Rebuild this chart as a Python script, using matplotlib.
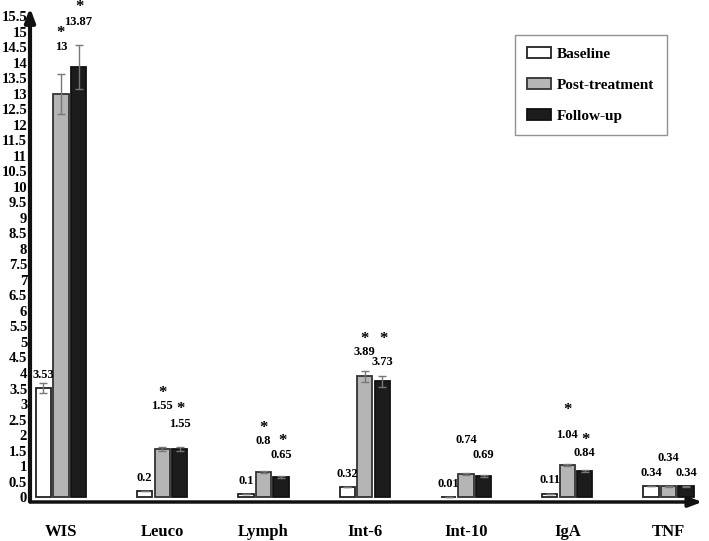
import matplotlib.pyplot as plt
from matplotlib.patches import Patch
import numpy as np

plt.rcParams['font.family'] = ['Liberation Serif', 'DejaVu Serif']
plt.rcParams['font.weight'] = 'bold'

categorias = ['WIS', 'Leuco', 'Lymph', 'Int-6', 'Int-10', 'IgA', 'TNF']
baseline = [3.53, 0.2, 0.1, 0.32, 0.01, 0.11, 0.34]
post = [13, 1.55, 0.8, 3.89, 0.74, 1.04, 0.34]
follow = [13.87, 1.55, 0.65, 3.73, 0.69, 0.84, 0.34]
err_base = [0.16, 0, 0, 0, 0, 0, 0]
err_post = [0.65, 0.07, 0.03, 0.18, 0.03, 0.03, 0.01]
err_follow = [0.7, 0.07, 0.03, 0.17, 0.03, 0.03, 0.01]
# significancia (asterisco) por serie
sig_post = [True, True, True, True, False, True, False]
sig_follow = [True, True, True, True, False, True, False]

# altura de las etiquetas (en unidades del eje)
lab_base = [3.94, 0.61, 0.52, 0.74, 0.42, 0.55, 0.77]
lab_post = [14.5, 2.94, 1.8, 4.68, 1.84, 2.0, 1.26]
lab_follow = [15.33, 2.35, 1.35, 4.35, 1.35, 1.42, 0.77]
star_post = [14.98, 3.36, 2.22, 5.1, 0, 2.8, 0]
star_follow = [15.82, 2.84, 1.82, 5.1, 0, 1.84, 0]

fig = plt.figure(figsize=(7.09, 5.41), dpi=100)
ax = fig.add_axes([30 / 709, 39 / 541, 675 / 709, 497 / 541])

x = np.arange(len(categorias))
w = 0.15
d = 0.173
ek = dict(ecolor='#777777', elinewidth=1, capsize=3, capthick=1)

ax.bar(x - d, baseline, w, color='white', edgecolor='#222222', linewidth=1.3,
       yerr=err_base, error_kw=ek)
ax.bar(x, post, w, color='#b5b5b5', edgecolor='#333333', linewidth=1.3,
       yerr=err_post, error_kw=ek)
ax.bar(x + d, follow, w, color='#1c1c1c', edgecolor='#111111', linewidth=1.3,
       yerr=err_follow, error_kw=ek)

for i in range(len(categorias)):
    ax.text(x[i] - d, lab_base[i], str(baseline[i]), ha='center', va='center', fontsize=9)
    ax.text(x[i], lab_post[i], str(post[i]), ha='center', va='center', fontsize=9)
    ax.text(x[i] + d, lab_follow[i], str(follow[i]), ha='center', va='center', fontsize=9)
    if sig_post[i]:
        ax.text(x[i], star_post[i], '*', ha='center', va='center', fontsize=12, clip_on=False)
    if sig_follow[i]:
        ax.text(x[i] + d + 0.01, star_follow[i], '*', ha='center', va='center', fontsize=12,
                clip_on=False)

ax.set_xlim(-0.306, 6.36)
ax.set_ylim(-0.161, 15.87)
ax.set_yticks(np.arange(0, 16, 0.5))
ax.set_yticklabels(['{:g}'.format(v) for v in np.arange(0, 16, 0.5)], fontsize=10.5)
ax.tick_params(axis='y', length=0, pad=2)
ax.set_xticks(x)
ax.set_xticklabels(categorias, fontsize=12)
ax.tick_params(axis='x', length=0, pad=16)

for s in ['top', 'right', 'left', 'bottom']:
    ax.spines[s].set_visible(False)

# ejes con flechas
ax.annotate('', xy=(0, 1.0), xytext=(0, -0.005), xycoords='axes fraction',
            arrowprops=dict(arrowstyle='-|>,head_width=0.3,head_length=0.8', lw=3, color='#111111'))
ax.annotate('', xy=(1.0, 0), xytext=(-0.003, 0), xycoords='axes fraction',
            arrowprops=dict(arrowstyle='-|>,head_width=0.3,head_length=0.8', lw=2.5, color='#111111'))

handles = [Patch(facecolor='white', edgecolor='#222222', linewidth=1.3),
           Patch(facecolor='#b5b5b5', edgecolor='#333333', linewidth=1.3),
           Patch(facecolor='#1c1c1c', edgecolor='#111111', linewidth=1.3)]
leg = ax.legend(handles, ['Baseline', 'Post-treatment', 'Follow-up'],
                loc='upper left', bbox_to_anchor=(485 / 675, 1 - 30 / 497),
                fontsize=11, frameon=True, fancybox=False, labelspacing=1.1,
                handlelength=1.55, handleheight=0.75, handletextpad=0.4,
                borderpad=0.8, borderaxespad=0)
leg.get_frame().set_edgecolor('#777777')
leg.get_frame().set_linewidth(1)

fig.savefig('out.png', dpi=100)
